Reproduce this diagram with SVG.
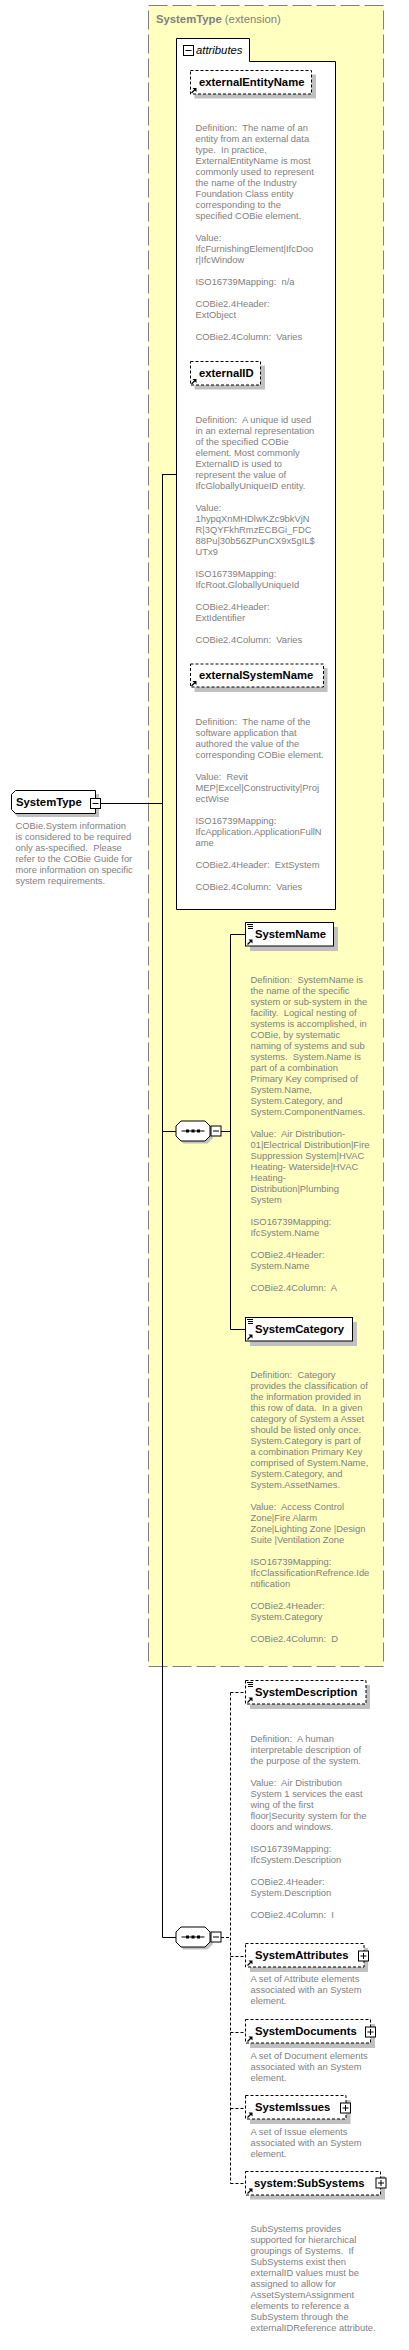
<svg xmlns="http://www.w3.org/2000/svg" xmlns:xlink="http://www.w3.org/1999/xlink" width="409" height="2350" viewBox="0 0 409 2350">
<style>
.lbl{font-family:"Liberation Sans",Arial,sans-serif;font-size:11.3px;font-weight:bold;fill:#000}
.d{font-family:"Liberation Sans",Arial,sans-serif;font-size:9.4px;fill:#808080;white-space:pre}
.ttl{font-family:"Liberation Sans",Arial,sans-serif;font-size:11.3px;fill:#808080;white-space:pre}
.box{fill:#fff;stroke:#000;stroke-width:1}
.dbox{fill:#fff;stroke:#000;stroke-width:1;stroke-dasharray:3 2}
.sh{fill:#c0c0c0}
.ln{fill:none;stroke:#000;stroke-width:1}
.dln{fill:none;stroke:#000;stroke-width:1;stroke-dasharray:3 2}
.btn{fill:#fff;stroke:#000;stroke-width:1}
</style>
<defs>
<g id="ref">
<path d="M0.5,5.5 L4,2" stroke="#000" stroke-width="1.2" fill="none"/>
<path d="M1.5,0.5 L5.5,0.5 L5.5,4.5 Z" fill="#000"/>
</g>
<g id="seq">
<path d="M0,0.5 H6 M1,2.5 H6 M1,4.5 H6" stroke="#000" stroke-width="1"/>
</g>
<g id="plus">
<rect class="btn" x="0.5" y="0.5" width="10" height="10"/>
<path d="M2.5,5.5 H8.5 M5.5,2.5 V8.5" stroke="#000" stroke-width="1"/>
</g>
<g id="minus">
<rect class="btn" x="0.5" y="0.5" width="10" height="10"/>
<path d="M2.5,5.5 H8.5" stroke="#000" stroke-width="1"/>
</g>
<g id="comp">
<path d="M8,3 H32 L37,8 V18 L32,23 H8 L3,18 V8 Z" fill="#c0c0c0"/>
<path d="M5.5,0.5 H29.5 L34.5,5.5 V15.5 L29.5,20.5 H5.5 L0.5,15.5 V5.5 Z" fill="#fff" stroke="#000"/>
<path d="M6,10.5 H29" stroke="#000"/>
<rect x="10.5" y="9" width="3" height="3" fill="#000"/>
<rect x="16" y="9" width="3" height="3" fill="#000"/>
<rect x="21.5" y="9" width="3" height="3" fill="#000"/>
</g>
</defs>

<g id="extension">
<rect x="148.5" y="5.5" width="235" height="1661" fill="#ffffc0" stroke="#808080" stroke-width="1" stroke-dasharray="19 5"/>
<text class="ttl" x="156" y="23"><tspan font-weight="bold">SystemType</tspan> (extension)</text>
</g>

<g id="attributes">
<path d="M176.5,38.5 H249.5 V61.5 H335.5 V909.5 H176.5 Z" class="box"/>
<use xlink:href="#minus" x="183" y="45"/>
<text x="196" y="54" font-family="Liberation Sans, Arial, sans-serif" font-size="11.3" font-style="italic" fill="#000">attributes</text>
</g>

<g id="connectors">
<path class="ln" d="M100,803.5 H162.5 M162.5,474 V1937.5 M162.5,474.5 H177 M162.5,1131.5 H176 M162.5,1937.5 H176"/>
<path class="ln" d="M221,1131.5 H230.5 M230.5,934.5 V1329.5 M230.5,934.5 H246 M230.5,1329.5 H246"/>
<path class="dln" d="M221,1937.5 H230.5 M230.5,1692.5 V2183.5 M230.5,1692.5 H246 M230.5,1956.5 H246 M230.5,2032.5 H246 M230.5,2108.5 H246 M230.5,2183.5 H246"/>
</g>

<g id="SystemType">
<path d="M18,794 H99 V817 H18 L14,813 V798 Z" class="sh"/>
<path d="M15.5,790.5 H95.5 V813.5 H15.5 L11.5,809.5 V794.5 Z" class="box"/>
<text class="lbl" x="16" y="806">SystemType</text>
<use xlink:href="#minus" x="90" y="798"/>
<text class="d" x="15.5" y="829"><tspan x="15.5">COBie.System information</tspan><tspan x="15.5" dy="11">is considered to be required</tspan><tspan x="15.5" dy="11">only as-specified.  Please</tspan><tspan x="15.5" dy="11">refer to the COBie Guide for</tspan><tspan x="15.5" dy="11">more information on specific</tspan><tspan x="15.5" dy="11">system requirements.</tspan></text>
</g>

<g id="externalEntityName">
<rect class="sh" x="194.5" y="74.5" width="121.5" height="24"/>
<rect class="dbox" x="190.5" y="70.5" width="121" height="23.5"/>
<use xlink:href="#ref" x="191" y="87.5"/>
<text class="lbl" x="199" y="86">externalEntityName</text>
<text class="d" x="195.5" y="131"><tspan x="195.5">Definition:  The name of an</tspan><tspan x="195.5" dy="11">entity from an external data</tspan><tspan x="195.5" dy="11">type.  In practice,</tspan><tspan x="195.5" dy="11">ExternalEntityName is most</tspan><tspan x="195.5" dy="11">commonly used to represent</tspan><tspan x="195.5" dy="11">the name of the Industry</tspan><tspan x="195.5" dy="11">Foundation Class entity</tspan><tspan x="195.5" dy="11">corresponding to the</tspan><tspan x="195.5" dy="11">specified COBie element.</tspan><tspan x="195.5" dy="22">Value:</tspan><tspan x="195.5" dy="11">IfcFurnishingElement|IfcDoo</tspan><tspan x="195.5" dy="11">r|IfcWindow</tspan><tspan x="195.5" dy="22">ISO16739Mapping:  n/a</tspan><tspan x="195.5" dy="22">COBie2.4Header:</tspan><tspan x="195.5" dy="11">ExtObject</tspan><tspan x="195.5" dy="22">COBie2.4Column:  Varies</tspan></text>
</g>

<g id="externalID">
<rect class="sh" x="194.5" y="365.5" width="70.5" height="24"/>
<rect class="dbox" x="190.5" y="361.5" width="70" height="23.5"/>
<use xlink:href="#ref" x="191" y="378.5"/>
<text class="lbl" x="199" y="377">externalID</text>
<text class="d" x="195.5" y="423"><tspan x="195.5">Definition:  A unique id used</tspan><tspan x="195.5" dy="11">in an external representation</tspan><tspan x="195.5" dy="11">of the specified COBie</tspan><tspan x="195.5" dy="11">element. Most commonly</tspan><tspan x="195.5" dy="11">ExternalID is used to</tspan><tspan x="195.5" dy="11">represent the value of</tspan><tspan x="195.5" dy="11">IfcGloballyUniqueID entity.</tspan><tspan x="195.5" dy="22">Value:</tspan><tspan x="195.5" dy="11">1hypqXnMHDlwKZc9bkVjN</tspan><tspan x="195.5" dy="11">R|3QYFkhRmzECBGi_FDC</tspan><tspan x="195.5" dy="11">88Pu|30b56ZPunCX9x5gIL$</tspan><tspan x="195.5" dy="11">UTx9</tspan><tspan x="195.5" dy="22">ISO16739Mapping:</tspan><tspan x="195.5" dy="11">IfcRoot.GloballyUniqueId</tspan><tspan x="195.5" dy="22">COBie2.4Header:</tspan><tspan x="195.5" dy="11">ExtIdentifier</tspan><tspan x="195.5" dy="22">COBie2.4Column:  Varies</tspan></text>
</g>

<g id="externalSystemName">
<rect class="sh" x="194.5" y="668" width="133" height="24"/>
<rect class="dbox" x="190.5" y="664" width="133" height="23"/>
<use xlink:href="#ref" x="191" y="680.5"/>
<text class="lbl" x="199" y="679">externalSystemName</text>
<text class="d" x="195.5" y="725"><tspan x="195.5">Definition:  The name of the</tspan><tspan x="195.5" dy="11">software application that</tspan><tspan x="195.5" dy="11">authored the value of the</tspan><tspan x="195.5" dy="11">corresponding COBie element.</tspan><tspan x="195.5" dy="22">Value:  Revit</tspan><tspan x="195.5" dy="11">MEP|Excel|Constructivity|Proj</tspan><tspan x="195.5" dy="11">ectWise</tspan><tspan x="195.5" dy="22">ISO16739Mapping:</tspan><tspan x="195.5" dy="11">IfcApplication.ApplicationFullN</tspan><tspan x="195.5" dy="11">ame</tspan><tspan x="195.5" dy="22">COBie2.4Header:  ExtSystem</tspan><tspan x="195.5" dy="22">COBie2.4Column:  Varies</tspan></text>
</g>

<g id="sequence1">
<use xlink:href="#comp" x="175.5" y="1120.5"/>
<use xlink:href="#minus" x="210.5" y="1125.5"/>
</g>

<g id="SystemName">
<rect class="sh" x="250" y="927" width="88" height="24"/>
<rect class="box" x="245.5" y="922.5" width="88" height="23.5"/>
<use xlink:href="#seq" x="247" y="924"/>
<use xlink:href="#ref" x="247" y="939"/>
<text class="lbl" x="255" y="938">SystemName</text>
<text class="d" x="250.5" y="983"><tspan x="250.5">Definition:  SystemName is</tspan><tspan x="250.5" dy="11">the name of the specific</tspan><tspan x="250.5" dy="11">system or sub-system in the</tspan><tspan x="250.5" dy="11">facility.  Logical nesting of</tspan><tspan x="250.5" dy="11">systems is accomplished, in</tspan><tspan x="250.5" dy="11">COBie, by systematic</tspan><tspan x="250.5" dy="11">naming of systems and sub</tspan><tspan x="250.5" dy="11">systems.  System.Name is</tspan><tspan x="250.5" dy="11">part of a combination</tspan><tspan x="250.5" dy="11">Primary Key comprised of</tspan><tspan x="250.5" dy="11">System.Name,</tspan><tspan x="250.5" dy="11">System.Category, and</tspan><tspan x="250.5" dy="11">System.ComponentNames.</tspan><tspan x="250.5" dy="22">Value:  Air Distribution-</tspan><tspan x="250.5" dy="11">01|Electrical Distribution|Fire</tspan><tspan x="250.5" dy="11">Suppression System|HVAC</tspan><tspan x="250.5" dy="11">Heating- Waterside|HVAC</tspan><tspan x="250.5" dy="11">Heating-</tspan><tspan x="250.5" dy="11">Distribution|Plumbing</tspan><tspan x="250.5" dy="11">System</tspan><tspan x="250.5" dy="22">ISO16739Mapping:</tspan><tspan x="250.5" dy="11">IfcSystem.Name</tspan><tspan x="250.5" dy="22">COBie2.4Header:</tspan><tspan x="250.5" dy="11">System.Name</tspan><tspan x="250.5" dy="22">COBie2.4Column:  A</tspan></text>
</g>

<g id="SystemCategory">
<rect class="sh" x="250" y="1322" width="107" height="24"/>
<rect class="box" x="245.5" y="1317.5" width="107" height="23.5"/>
<use xlink:href="#seq" x="247" y="1319"/>
<use xlink:href="#ref" x="247" y="1334"/>
<text class="lbl" x="255" y="1333">SystemCategory</text>
<text class="d" x="250.5" y="1378"><tspan x="250.5">Definition:  Category</tspan><tspan x="250.5" dy="11">provides the classification of</tspan><tspan x="250.5" dy="11">the information provided in</tspan><tspan x="250.5" dy="11">this row of data.  In a given</tspan><tspan x="250.5" dy="11">category of System a Asset</tspan><tspan x="250.5" dy="11">should be listed only once.</tspan><tspan x="250.5" dy="11">System.Category is part of</tspan><tspan x="250.5" dy="11">a combination Primary Key</tspan><tspan x="250.5" dy="11">comprised of System.Name,</tspan><tspan x="250.5" dy="11">System.Category, and</tspan><tspan x="250.5" dy="11">System.AssetNames.</tspan><tspan x="250.5" dy="22">Value:  Access Control</tspan><tspan x="250.5" dy="11">Zone|Fire Alarm</tspan><tspan x="250.5" dy="11">Zone|Lighting Zone |Design</tspan><tspan x="250.5" dy="11">Suite |Ventilation Zone</tspan><tspan x="250.5" dy="22">ISO16739Mapping:</tspan><tspan x="250.5" dy="11">IfcClassificationRefrence.Ide</tspan><tspan x="250.5" dy="11">ntification</tspan><tspan x="250.5" dy="22">COBie2.4Header:</tspan><tspan x="250.5" dy="11">System.Category</tspan><tspan x="250.5" dy="22">COBie2.4Column:  D</tspan></text>
</g>

<g id="sequence2">
<use xlink:href="#comp" x="175.5" y="1926.5"/>
<use xlink:href="#minus" x="210.5" y="1931.5"/>
</g>

<g id="SystemDescription">
<rect class="sh" x="250" y="1685" width="120" height="24"/>
<rect class="dbox" x="245.5" y="1680.5" width="120.5" height="23.5"/>
<use xlink:href="#seq" x="247" y="1682"/>
<use xlink:href="#ref" x="247" y="1697"/>
<text class="lbl" x="255" y="1696">SystemDescription</text>
<text class="d" x="250.5" y="1742"><tspan x="250.5">Definition:  A human</tspan><tspan x="250.5" dy="11">interpretable description of</tspan><tspan x="250.5" dy="11">the purpose of the system.</tspan><tspan x="250.5" dy="22">Value:  Air Distribution</tspan><tspan x="250.5" dy="11">System 1 services the east</tspan><tspan x="250.5" dy="11">wing of the first</tspan><tspan x="250.5" dy="11">floor|Security system for the</tspan><tspan x="250.5" dy="11">doors and windows.</tspan><tspan x="250.5" dy="22">ISO16739Mapping:</tspan><tspan x="250.5" dy="11">IfcSystem.Description</tspan><tspan x="250.5" dy="22">COBie2.4Header:</tspan><tspan x="250.5" dy="11">System.Description</tspan><tspan x="250.5" dy="22">COBie2.4Column:  I</tspan></text>
</g>

<g id="SystemAttributes">
<rect class="sh" x="250" y="1948" width="118" height="24"/>
<rect class="dbox" x="245.5" y="1943.5" width="118.5" height="23.5"/>
<use xlink:href="#ref" x="247" y="1960"/>
<text class="lbl" x="255" y="1959">SystemAttributes</text>
<use xlink:href="#plus" x="358" y="1950.5"/>
<text class="d" x="250.5" y="1982"><tspan x="250.5">A set of Attribute elements</tspan><tspan x="250.5" dy="11">associated with an System</tspan><tspan x="250.5" dy="11">element.</tspan></text>
</g>

<g id="SystemDocuments">
<rect class="sh" x="250" y="2024" width="125" height="24"/>
<rect class="dbox" x="245.5" y="2019.5" width="125" height="23.5"/>
<use xlink:href="#ref" x="247" y="2036"/>
<text class="lbl" x="255" y="2035">SystemDocuments</text>
<use xlink:href="#plus" x="365" y="2026.5"/>
<text class="d" x="250.5" y="2059"><tspan x="250.5">A set of Document elements</tspan><tspan x="250.5" dy="11">associated with an System</tspan><tspan x="250.5" dy="11">element.</tspan></text>
</g>

<g id="SystemIssues">
<rect class="sh" x="250" y="2100" width="100.5" height="24"/>
<rect class="dbox" x="245.5" y="2095.5" width="100.5" height="23.5"/>
<use xlink:href="#ref" x="247" y="2112"/>
<text class="lbl" x="255" y="2111">SystemIssues</text>
<use xlink:href="#plus" x="340" y="2102.5"/>
<text class="d" x="250.5" y="2135"><tspan x="250.5">A set of Issue elements</tspan><tspan x="250.5" dy="11">associated with an System</tspan><tspan x="250.5" dy="11">element.</tspan></text>
</g>

<g id="SubSystems">
<rect class="sh" x="250" y="2176" width="135" height="23.5"/>
<rect class="dbox" x="245.5" y="2171.5" width="135" height="23.5"/>
<use xlink:href="#ref" x="247" y="2188"/>
<text class="lbl" x="254" y="2187">system:SubSystems</text>
<use xlink:href="#plus" x="375.5" y="2177.5"/>
<text class="d" x="250.5" y="2232"><tspan x="250.5">SubSystems provides</tspan><tspan x="250.5" dy="11">supported for hierarchical</tspan><tspan x="250.5" dy="11">groupings of Systems.  If</tspan><tspan x="250.5" dy="11">SubSystems exist then</tspan><tspan x="250.5" dy="11">externalID values must be</tspan><tspan x="250.5" dy="11">assigned to allow for</tspan><tspan x="250.5" dy="11">AssetSystemAssignment</tspan><tspan x="250.5" dy="11">elements to reference a</tspan><tspan x="250.5" dy="11">SubSystem through the</tspan><tspan x="250.5" dy="11">externalIDReference attribute.</tspan></text>
</g>
</svg>
